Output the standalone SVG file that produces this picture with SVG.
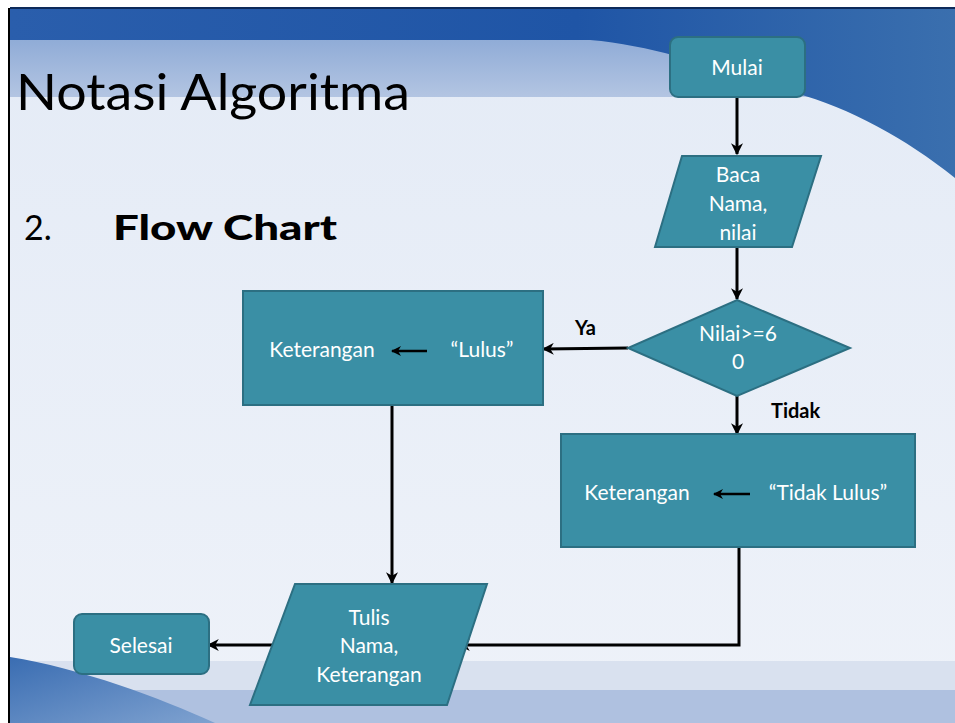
<svg xmlns="http://www.w3.org/2000/svg" width="955" height="723" viewBox="0 0 955 723">
  <defs>
    <linearGradient id="bandDark" x1="0" y1="0" x2="1" y2="0">
      <stop offset="0" stop-color="#2a5eac"/>
      <stop offset="0.6" stop-color="#1f55a6"/>
      <stop offset="1" stop-color="#3a6fae"/>
    </linearGradient>
    <linearGradient id="bandLight" x1="0" y1="0" x2="0" y2="1">
      <stop offset="0" stop-color="#90acd7"/>
      <stop offset="1" stop-color="#b3c5e2"/>
    </linearGradient>
    <linearGradient id="body" x1="0" y1="0" x2="0" y2="1">
      <stop offset="0" stop-color="#e4ebf6"/>
      <stop offset="1" stop-color="#eef2f9"/>
    </linearGradient>
    <linearGradient id="swoosh" x1="0" y1="0" x2="1" y2="1">
      <stop offset="0" stop-color="#3a6db2"/>
      <stop offset="1" stop-color="#7fa2d0"/>
    </linearGradient>
    <marker id="arrow" viewBox="0 0 10 10" refX="9" refY="5" markerWidth="4" markerHeight="4" orient="auto-start-reverse" markerUnits="strokeWidth">
      <path d="M0,0 L10,5 L0,10 L3,5 Z" fill="#000"/>
    </marker>
  </defs>
  <style>
    .node { fill: #3a8fa5; stroke: #2c6f82; stroke-width: 2; }
    .ntext { font-family: "Lato", "Open Sans", sans-serif; font-size: 21px; fill: #ffffff; text-anchor: middle; }
    .lbl { font-family: "Lato", "Open Sans", sans-serif; font-size: 20px; font-weight: bold; fill: #000; }
    .edge { fill: none; stroke: #000; stroke-width: 3; }
    .inner { fill: none; stroke: #000; stroke-width: 2.5; }
  </style>

  <!-- slide background -->
  <rect x="0" y="0" width="955" height="723" fill="#ffffff"/>
  <rect x="10" y="8" width="945" height="715" fill="url(#body)"/>
  <rect x="10" y="40" width="945" height="57" fill="url(#bandLight)"/>
  <path d="M10,8 H955 V178 C905,138 850,108 795,93 C720,70 660,46 590,40 L10,40 Z" fill="url(#bandDark)"/>
  <rect x="10" y="661" width="945" height="29" fill="#d9e1ef"/>
  <rect x="10" y="690" width="945" height="33" fill="#afc1e0"/>
  <path d="M10,657 C80,668 160,698 215,723 L10,723 Z" fill="url(#swoosh)"/>
  <line x1="10" y1="8" x2="955" y2="8" stroke="#0d2a5a" stroke-width="2"/>
  <line x1="9" y1="8" x2="9" y2="723" stroke="#000" stroke-width="2"/>

  <!-- headings -->
  <text x="16" y="110" font-family="Lato, 'Open Sans', sans-serif" font-size="51" fill="#000" textLength="394" lengthAdjust="spacingAndGlyphs">Notasi Algoritma</text>
  <text x="24" y="240" font-family="Lato, 'Open Sans', sans-serif" font-size="34" fill="#000">2.</text>
  <text x="113" y="240" font-family="Lato, 'Open Sans', sans-serif" font-size="35" font-weight="900" fill="#000" textLength="224" lengthAdjust="spacingAndGlyphs">Flow Chart</text>

  <!-- connectors -->
  <g id="connectors">
    <line class="edge" x1="737" y1="97" x2="737" y2="154" marker-end="url(#arrow)"/>
    <line class="edge" x1="737" y1="247" x2="737" y2="299" marker-end="url(#arrow)"/>
    <line class="edge" x1="628" y1="348" x2="543" y2="349" marker-end="url(#arrow)"/>
    <line class="edge" x1="737" y1="396" x2="737" y2="434" marker-end="url(#arrow)"/>
    <line class="edge" x1="392" y1="405" x2="392" y2="583" marker-end="url(#arrow)"/>
    <polyline class="edge" points="739,547 739,645 459,645" marker-end="url(#arrow)"/>
    <line class="edge" x1="275" y1="645" x2="208" y2="645" marker-end="url(#arrow)"/>
    <text class="lbl" x="575" y="335">Ya</text>
    <text class="lbl" x="771" y="418">Tidak</text>
  </g>

  <g id="mulai">
    <rect class="node" x="670" y="37" width="135" height="60" rx="8"/>
    <text class="ntext" x="737" y="75">Mulai</text>
  </g>

  <g id="baca">
    <polygon class="node" points="682,156 821,156 792,247 655,247"/>
    <text class="ntext" x="738" y="182">Baca</text>
    <text class="ntext" x="738" y="211">Nama,</text>
    <text class="ntext" x="738" y="240">nilai</text>
  </g>

  <g id="cek-nilai">
    <polygon class="node" points="737,300 850,348 737,396 628,348"/>
    <text class="ntext" x="738" y="341">Nilai&gt;=6</text>
    <text class="ntext" x="738" y="369">0</text>
  </g>

  <g id="lulus">
    <rect class="node" x="243" y="291" width="300" height="114"/>
    <text class="ntext" x="322" y="357">Keterangan</text>
    <line class="inner" x1="427" y1="351" x2="392" y2="351" marker-end="url(#arrow)"/>
    <text class="ntext" x="482" y="357">“Lulus”</text>
  </g>

  <g id="tidak-lulus">
    <rect class="node" x="561" y="434" width="354" height="113"/>
    <text class="ntext" x="637" y="500">Keterangan</text>
    <line class="inner" x1="750" y1="494" x2="714" y2="494" marker-end="url(#arrow)"/>
    <text class="ntext" x="828" y="500">“Tidak Lulus”</text>
  </g>

  <g id="tulis">
    <polygon class="node" points="295,584 487,584 447,705 250,705"/>
    <text class="ntext" x="369" y="625">Tulis</text>
    <text class="ntext" x="369" y="653">Nama,</text>
    <text class="ntext" x="369" y="682">Keterangan</text>
  </g>

  <g id="selesai">
    <rect class="node" x="74" y="614" width="135" height="60" rx="8"/>
    <text class="ntext" x="141" y="653">Selesai</text>
  </g>
</svg>
